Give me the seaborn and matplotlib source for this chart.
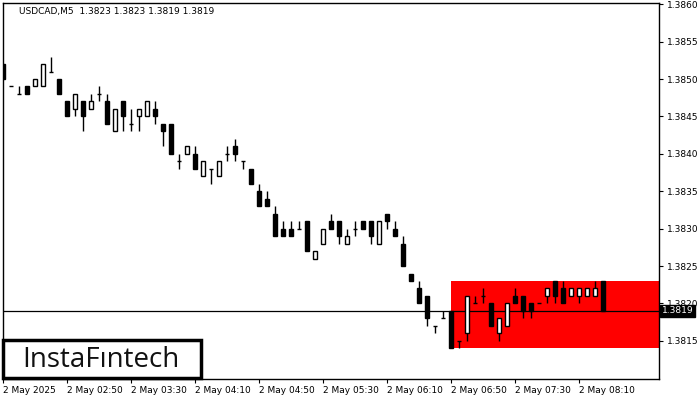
import numpy as np
import pandas as pd
import seaborn as sns
import matplotlib.pyplot as plt
from matplotlib.patches import Rectangle

# 5-minute USDCAD bars, 2 May 2025 02:10 .. 08:25
open_ = [1.3852, 1.3849, 1.3848, 1.3849, 1.3849, 1.3849, 1.3851, 1.3850, 1.3847, 1.3846,
         1.3847, 1.3846, 1.3848, 1.3847, 1.3843, 1.3847, 1.3844, 1.3845, 1.3845, 1.3846,
         1.3844, 1.3844, 1.3839, 1.3840, 1.3840, 1.3837, 1.3838, 1.3837, 1.3840, 1.3841,
         1.3839, 1.3838, 1.3835, 1.3834, 1.3832, 1.3830, 1.3830, 1.3830, 1.3831, 1.3826,
         1.3828, 1.3831, 1.3831, 1.3828, 1.3830, 1.3831, 1.3831, 1.3828, 1.3832, 1.3830,
         1.3828, 1.3824, 1.3822, 1.3821, 1.3817, 1.3818, 1.3819, 1.3815, 1.3816, 1.3820,
         1.3821, 1.3820, 1.3816, 1.3817, 1.3821, 1.3821, 1.3820, 1.3820, 1.3821, 1.3823,
         1.3822, 1.3821, 1.3821, 1.3821, 1.3821, 1.3823]
high = [1.3852, 1.3849, 1.3849, 1.3849, 1.3850, 1.3852, 1.3853, 1.3850, 1.3847, 1.3848,
        1.3847, 1.3848, 1.3849, 1.3848, 1.3846, 1.3847, 1.3846, 1.3846, 1.3847, 1.3847,
        1.3844, 1.3844, 1.3840, 1.3841, 1.3841, 1.3839, 1.3838, 1.3839, 1.3841, 1.3842,
        1.3839, 1.3838, 1.3836, 1.3835, 1.3833, 1.3831, 1.3831, 1.3831, 1.3831, 1.3827,
        1.3830, 1.3832, 1.3831, 1.3830, 1.3831, 1.3831, 1.3831, 1.3831, 1.3832, 1.3831,
        1.3829, 1.3824, 1.3823, 1.3821, 1.3817, 1.3819, 1.3819, 1.3815, 1.3821, 1.3821,
        1.3822, 1.3820, 1.3818, 1.3820, 1.3822, 1.3821, 1.3820, 1.3820, 1.3822, 1.3823,
        1.3823, 1.3822, 1.3822, 1.3822, 1.3823, 1.3823]
low = [1.3850, 1.3849, 1.3848, 1.3848, 1.3849, 1.3849, 1.3851, 1.3848, 1.3845, 1.3845,
       1.3843, 1.3846, 1.3847, 1.3844, 1.3843, 1.3843, 1.3843, 1.3843, 1.3845, 1.3844,
       1.3841, 1.3840, 1.3838, 1.3840, 1.3838, 1.3837, 1.3836, 1.3837, 1.3839, 1.3839,
       1.3838, 1.3836, 1.3833, 1.3833, 1.3829, 1.3829, 1.3829, 1.3830, 1.3827, 1.3826,
       1.3828, 1.3830, 1.3828, 1.3828, 1.3829, 1.3830, 1.3828, 1.3828, 1.3830, 1.3829,
       1.3825, 1.3823, 1.3820, 1.3817, 1.3816, 1.3818, 1.3814, 1.3814, 1.3815, 1.3820,
       1.3820, 1.3817, 1.3815, 1.3817, 1.3820, 1.3818, 1.3818, 1.3820, 1.3820, 1.3820,
       1.3820, 1.3821, 1.3820, 1.3821, 1.3821, 1.3819]
close = [1.3850, 1.3849, 1.3848, 1.3848, 1.3850, 1.3852, 1.3851, 1.3848, 1.3845, 1.3848,
         1.3845, 1.3847, 1.3848, 1.3844, 1.3846, 1.3845, 1.3844, 1.3846, 1.3847, 1.3845,
         1.3843, 1.3840, 1.3839, 1.3841, 1.3838, 1.3839, 1.3838, 1.3839, 1.3840, 1.3840,
         1.3839, 1.3836, 1.3833, 1.3833, 1.3829, 1.3829, 1.3829, 1.3830, 1.3827, 1.3827,
         1.3830, 1.3830, 1.3829, 1.3829, 1.3830, 1.3830, 1.3829, 1.3831, 1.3831, 1.3829,
         1.3825, 1.3823, 1.3820, 1.3818, 1.3817, 1.3818, 1.3814, 1.3815, 1.3821, 1.3820,
         1.3821, 1.3817, 1.3818, 1.3820, 1.3820, 1.3819, 1.3819, 1.3820, 1.3822, 1.3821,
         1.3820, 1.3822, 1.3822, 1.3822, 1.3822, 1.3819]

tick_bars = [0, 8, 16, 24, 32, 40, 48, 56, 64, 72]
tick_labels = ['2 May 2025', '2 May 02:50', '2 May 03:30', '2 May 04:10', '2 May 04:50',
               '2 May 05:30', '2 May 06:10', '2 May 06:50', '2 May 07:30', '2 May 08:10']
y_ticks = [1.3815, 1.3820, 1.3825, 1.3830, 1.3835, 1.3840, 1.3845, 1.3850, 1.3855, 1.3860]

# pattern box and current price
pattern_start = 56
pattern_low = 1.3814
pattern_high = 1.3823
last_price = 1.3819
title = 'USDCAD,M5  1.3823 1.3823 1.3819 1.3819'

df = pd.DataFrame({'open': open_, 'high': high, 'low': low, 'close': close})
df['bar'] = np.arange(len(df))

sns.set_theme(style='white')
plt.rcParams['font.family'] = ['DejaVu Sans']

fig = plt.figure(figsize=(7, 4), dpi=100)
ax = fig.add_axes([2.7 / 700, 1 - 379 / 400, (659 - 2.7) / 700, (379 - 2.7) / 400])
x_right = 82.0
ax.set_xlim(-0.04, x_right)
ax.set_ylim(1.38099, 1.38602)

# red pattern zone
ax.fill_between([pattern_start, x_right], pattern_low, pattern_high,
                color='#ff0000', linewidth=0, zorder=0.5)
ax.axhline(last_price, color='black', lw=0.9, zorder=1)

w = 0.62
up = df[df['close'] > df['open']]
down = df[df['close'] < df['open']]
doji = df[df['close'] == df['open']]

ax.vlines(df['bar'], df['low'], df['high'], color='black', lw=1, zorder=2)
ax.bar(up['bar'], up['close'] - up['open'], bottom=up['open'], width=w,
       color='white', edgecolor='black', linewidth=1, zorder=3)
ax.bar(down['bar'], down['open'] - down['close'], bottom=down['close'], width=w,
       color='black', edgecolor='black', linewidth=1, zorder=3)
ax.hlines(doji['open'], doji['bar'] - w / 2, doji['bar'] + w / 2, color='black', lw=1, zorder=3)

ax.yaxis.tick_right()
ax.set_yticks(y_ticks)
ax.set_yticklabels([f'{v:.4f}' for v in y_ticks])
ax.set_xticks(tick_bars)
ax.set_xticklabels(tick_labels, ha='left')
ax.tick_params(axis='both', which='both', direction='out', length=3, width=0.8,
               color='black', labelsize=6.5, labelcolor='black')
ax.tick_params(axis='y', right=True, left=False, pad=3)
ax.tick_params(axis='x', bottom=True, pad=2)
for lab in ax.get_xticklabels():
    lab.set_horizontalalignment('left')
for s in ax.spines.values():
    s.set_color('black')
    s.set_linewidth(1)
ax.grid(False)

# current price tag on the axis
ax.text(1.004, last_price, f'{last_price:.4f}', transform=ax.get_yaxis_transform(),
        ha='left', va='center', color='white', fontsize=6.5, zorder=10, clip_on=False,
        bbox=dict(boxstyle='square,pad=0.2', fc='black', ec='black'))

ax.text(16 / 656, 1 - 9 / 376, title, transform=ax.transAxes, ha='left', va='center',
        fontsize=6.5, color='black')

# logo box
fig.patches.append(Rectangle((3 / 700, 1 - 378 / 400), 198 / 700, 38 / 400,
                             transform=fig.transFigure, fc='white', ec='black', lw=2.5,
                             zorder=20))
fig.text(101 / 700, 1 - 360 / 400, 'InstaF\u0131ntech', ha='center', va='center',
         fontsize=20, color='#111111', family=['Open Sans', 'DejaVu Sans'], zorder=21)

fig.savefig('out.png', dpi=100)
